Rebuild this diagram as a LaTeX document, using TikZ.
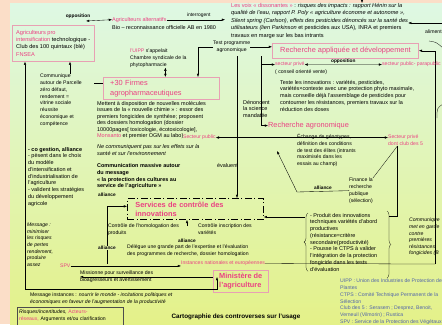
\documentclass[tikz,border=0pt]{standalone}
\usepackage{fontspec}
\setmainfont{Liberation Sans}
\usetikzlibrary{arrows.meta, positioning, calc, decorations.pathreplacing}

\definecolor{peach}{RGB}{251,222,200}
\definecolor{bgtop}{RGB}{222,248,228}
\definecolor{bgmid}{RGB}{232,247,196}
\definecolor{bgbot}{RGB}{228,241,135}
\definecolor{rose}{RGB}{234,64,130}
\definecolor{roseline}{RGB}{232,160,180}
\definecolor{legend}{RGB}{80,100,170}

\begin{document}
\begin{tikzpicture}
[
  x=0.5mm, y=-0.5mm,
  every node/.style={inner sep=0pt, font=\fontsize{7.8}{9.6}\selectfont, align=left},
  txt/.style={anchor=north west},
  small/.style={font=\fontsize{7.3}{9.6}\selectfont},
  ttl/.style={text=rose, font=\fontsize{10.5}{13}\selectfont},
  bttl/.style={text=rose, font=\fontsize{10.5}{13}\selectfont\bfseries},
  rbox/.style={draw=roseline, line width=0.6pt, anchor=north west},
  lbl/.style={font=\fontsize{6.8}{8}\selectfont\bfseries},
  lnk/.style={draw, line width=0.5pt, -{Latex[length=1.6mm,width=1.2mm]}},
  dlnk/.style={draw, line width=0.5pt, {Latex[length=1.6mm,width=1.2mm]}-{Latex[length=1.6mm,width=1.2mm]}},
  dashdotbox/.style={draw, line width=1.1pt, dash pattern=on 3.5mm off 1.2mm on 0.6mm off 1.2mm}
]
% fond
\useasboundingbox (0,0) rectangle (442,324);
\fill[peach] (0,0) rectangle (442,324);
\shade[top color=bgtop, middle color=bgmid, bottom color=bgbot] (10,3) rectangle (446,330);

% agriculteurs
\node[rbox, inner xsep=2mm, inner ysep=2.6mm, font=\fontsize{8}{10.3}\selectfont] (pro) at (12,25)
  {\textcolor{rose}{Agriculteurs pro}\\\textcolor{rose}{intensification} technologique -\\Club des 100 quintaux (blé)\\\textcolor{rose}{FNSEA}};
\node[lbl] (opp1) at (78,16) {opposition};
\node[txt, text=rose] (altt) at (112,17) {Agriculteurs alternatifs};
\node[txt] (altb) at (112,25) {Bio – reconnaissance officielle AB en 1980};
\node[txt, font=\fontsize{8}{10.6}\selectfont] (voix) at (231,3)
  {\textcolor{rose}{Les voix « dissonantes »} : \textit{risques des impacts : rapport Hénin sur la}\\
   \textit{qualité de l'eau, rapport P. Poly « agriculture économe et autonome »,}\\
   \textit{Silent spring (Carlson), effets des pesticides dénoncés sur la santé des}\\
   \textit{utilisateurs (lien Parkinson} et pesticides aux USA), INRA et premiers\\
   travaux en marge sur les bas intrants};
\node[txt, small] (alim) at (425,30) {aliment};
\coordinate (o1) at (86,21);
\coordinate (vtop) at (362,-2);
\coordinate (ra) at (443,23);
\draw[dlnk] (o1) -- (altt.west);
\draw[lnk, shorten >=3mm] (altt.east) -- (voix.west |- altt.east) node[midway, above=1.2mm, font=\fontsize{7}{8}\selectfont] {interrogent};
\draw[lnk] (vtop) -- (vtop |- voix.north);
\draw[lnk] (ra) -- (ra -| voix.east);
\draw (429,41) .. controls (436,42) .. (443,48);
\draw (443,104) .. controls (437,108) .. (437,118);

% communique / firmes
\node[txt, small] (comm) at (40,74)
  {Communique\\autour de Parcelle\\zéro défaut,\\rendement =\\vitrine sociale\\réussite\\économique et\\compétence};
\coordinate (c70) at (70,74);
\coordinate (lv) at (25,289);
\draw[lnk] (c70) -- (c70 |- pro.south);
\draw[lnk] (lv) -- (lv |- pro.south);
\node[txt, small] (uipp) at (130,49) {\textcolor{rose}{l'UIPP} s'appelait\\Chambre syndicale de la\\phytopharmacie};
\node[rbox, bttl, font=\fontsize{10.5}{14}\selectfont, text width=51mm, inner xsep=3.5mm, inner ysep=1.3mm] (firmes) at (103,77)
  {+30 Firmes\\agropharmaceutiques};
\draw ([yshift=2.5mm]firmes.west) -- ++(-9,0);
\draw[dlnk] ([xshift=3.5mm]uipp.south) -- ([xshift=3.5mm]uipp.south |- firmes.north);
\node[txt, font=\fontsize{7.8}{9.3}\selectfont] (mett) at (97,101)
  {Mettent à disposition de nouvelles molécules\\issues de la « nouvelle chimie » : essor des\\premiers fongicides de synthèse; proposent\\des dossiers homologation (dossier\\10000pages[ toxicologie, écotoxicologie],\\\textcolor{rose}{Monsanto} et premier OGM au labo)};
\node[txt, font=\fontsize{7.8}{9.6}\selectfont\itshape] (ncom) at (97,144.5) {Ne communiquent pas sur les effets sur la\\santé et sur l'environnement};
\node[txt, font=\fontsize{7.8}{9.6}\selectfont\bfseries] (cmas) at (97,163.5) {Communication massive autour\\du message\\« la protection des cultures au\\service de l'agriculture »};
\node[txt] (cog) at (28,147)
  {\textbf{- co gestion, alliance}\\- pèsent dans le choix\\du modèle\\d'intensification et\\d'industrialisation de\\l'agriculture\\- valident les stratégies\\du développement\\agricole};

% recherche
\node[txt, small, align=center] (tp) at (213,41) {Test programme\\agronomique};
\coordinate (tpf) at (198,77);
\draw[lnk] (tp.west) -| (tpf);
\node[rbox, ttl, inner xsep=4mm, inner ysep=2mm] (rad) at (272,43) {Recherche appliquée et développement};
\draw[lnk] (tp.east) -- (rad.west |- tp.east);
\coordinate (rr) at (435,264);
\draw[lnk] (rr) |- (rad.east);
\node[txt, small, text=rose] (sp1) at (275,62) {secteur privé};
\node[txt, small] (sp1b) at (275,70) {( conseil orienté vente)};
\node[txt, small, text=rose] (sp2) at (382,62) {secteur public- parapublic};
\draw[dlnk] (sp1.east) -- (sp2.west) node[midway, above=0.3mm, lbl] {opposition};
\node[txt] (teste) at (280,80)
  {Teste les innovations : variétés, pesticides,\\variétés×contexte avec une protection phyto maximale,\\mais conseille déjà l'assemblage de pesticides pour\\contourner les résistances, premiers travaux sur la\\réduction des doses};
\node[txt] (denon) at (243,100) {Dénoncent\\la science\\mandatée};
\node[txt, ttl] (ragr) at (268,122) {Recherche agronomique};
\coordinate (v61) at (261,56);
\coordinate (v37) at (237,56);
\draw[lnk] (v61) |- (ragr.west);
\draw[lnk] (v61 |- sp1.west) -- (sp1.west);
\node[txt] (eval) at (217,163) {évaluent};
\node[txt, small, text=rose] (spub) at (183,135) {Secteur public};
\node[txt, small, text=rose] (sp5) at (388,135) {Secteur privé\\dont club des 5};
\draw[dlnk] (spub.east) -- (spub.east -| sp5.west);
\node[txt, small] (ech) at (297,134)
  {Échange de génotypes,\\définition des conditions\\de test des élites (intrants\\maximisés dans les\\essais au champ)};
\node[txt, small] (fin) at (349,178) {Finance la\\recherche\\publique\\(sélection)};
\coordinate (fa) at (297,192);
\coordinate (fb) at (277,151);
\draw[lnk] (fin.west) -- (fa) node[midway, above=0.6mm, lbl] {alliance} -- (fb);
\coordinate (s5) at ([xshift=-4mm]sp5.south);
\draw (fin.north east) -- (s5);

% services de controle
\node[dashdotbox, anchor=north west, bttl, text width=60mm, inner xsep=4mm, inner ysep=1.6mm] (svc) at (127,198)
  {Services de contrôle des\\innovations};
\draw[lnk] (v37) -- (v37 |- svc.north);
\node[lbl] (all1) at (107,195) {alliance};
\coordinate (sa) at (107,264);
\draw[lnk] (sa) |- ([yshift=1.3mm]svc.west);
\node[txt, small] (chom) at (108,224) {Contrôle de l'homologation des\\produits};
\node[txt, small] (cins) at (198,224) {Contrôle inscription des\\variétés};
\coordinate (ci) at (187,226);
\draw[lnk] (ci) -- (ci |- svc.south);
\node[lbl] (all2) at (187,241) {alliance};
\node[lbl, fill=bgmid!60!bgbot] (all3) at (107,248) {alliance};
\node[txt, small] (deleg) at (127,245) {Délègue une grande part de l'expertise et l'évaluation\\des programmes de recherche, dossier homologation};
\node[txt, small, font=\fontsize{7.3}{9.4}\selectfont\itshape] (mess) at (27,223)
  {Message :\\minimiser\\les risques\\de pertes\\rendement,\\produire\\assez};
\node[txt, small, text=rose] (spv) at (60,264) {SPV};
\node[txt, small, text=rose] (inst) at (181,261) {Instances nationales et européennes};
\draw[lnk] (spv.east) -- (spv.east -| inst.west);
\draw (rr) -- (inst.east);
\node[txt, small] (miss) at (80,271) {Missionne pour surveillance des\\bioagresseurs et avertissement};
\node[rbox, bttl, inner xsep=3mm, inner ysep=1.5mm] (mina) at (213,270) {Ministère de\\l'agriculture};
\draw[lnk] (miss.west -| mina.west) -- (miss.west);
\coordinate (mt) at (217,277);
\draw[lnk] (lv) -| (mt);

% innovations / accolades
\node[txt] (prod) at (310,213)
  {- Produit des innovations\\techniques variétés d'abord\\productives\\(résistance=critère\\secondaire(productivité)\\- Pousse le CTPS à valider\\l'intégration de la protection\\fongicide dans les tests\\d'évaluation};
\draw[decorate, decoration={brace, amplitude=2mm}] ([xshift=-1mm]prod.south west) -- ([xshift=-1mm]prod.north west);
\draw[decorate, decoration={brace, amplitude=2mm}] (387,211) -- (387,278);
\coordinate (pb) at (305,217);
\draw[lnk] (pb) -- (pb -| svc.east);
\node[txt, small, font=\fontsize{7.3}{9.4}\selectfont\itshape] (cgar) at (409,218)
  {Communique\\met en garde\\contre\\premières\\résistances\\fongicides (B};
\draw (s5) |- (389,216);

% bas
\node[txt, small] (mins) at (30,293) {Message instances : \textit{nourrir le monde - incitations politiques et}\\\textit{économiques en faveur de l'augmentation de la productivité}};
\node[rbox, draw=black!70, line width=0.4pt, inner xsep=1mm, inner ysep=1.5mm, text width=51mm, text depth=6mm, small] (risq) at (17,307)
  {\textit{Risques/incertitudes,} \textcolor{rose}{Acteurs-}\\\textcolor{rose}{réseaux,} Arguments et/ou clarification};
\node[txt, small, text=legend] (leg) at (340,279)
  {UIPP : Union des Industries de Protection des\\Plantes\\CTPS : Comité Technique Permanent de la\\Sélection\\Club des 5 : Serasem ; Desprez, Benoit,\\Verneuil (Vilmorin) ; Rustica\\SPV : Service de la Protection des Végétaux};
\node[font=\fontsize{9}{11}\selectfont\bfseries] (cart) at (236,317) {Cartographie des controverses sur l'usage};
\end{tikzpicture}
\end{document}
